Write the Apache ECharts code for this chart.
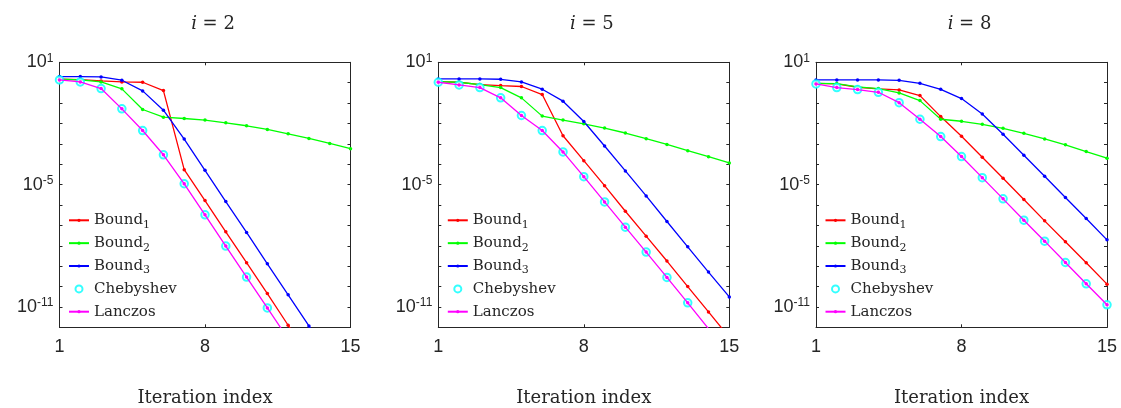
<!DOCTYPE html>
<html>
<head>
<meta charset="utf-8">
<script src="https://cdn.jsdelivr.net/npm/echarts@6/dist/echarts.min.js"></script>
<style>
html,body{margin:0;padding:0;background:#fff;}
#chart{width:1121px;height:408px;}
</style>
</head>
<body>
<div id="chart"></div>
<script>
// Iteration index (x values)
const iterations = [1,2,3,4,5,6,7,8,9,10,11,12,13,14,15];
const panelTitles = ['2','5','8'];
const xTickLabels = [1, 8, 15];
const yTickExponents = [1, -5, -11];

// Panel i = 2
const p1Bound1 = [1.47,1.42,1.22,1.09,1.05,0.41,5.4e-5,1.65e-6,4.8e-8,1.47e-9,4.5e-11,1.26e-12,4e-14];
const p1Bound2 = [1.47,1.37,1.09,0.497,0.0484,0.0204,0.0175,0.0146,0.0108,7.7e-3,5.1e-3,3.1e-3,1.85e-3,1.05e-3,5.8e-4];
const p1Bound3 = [1.99,1.99,1.92,1.32,0.396,0.0449,1.71e-3,5.0e-5,1.47e-6,4.5e-8,1.3e-9,3.9e-11,1.17e-12,3.5e-14];
const p1Chebyshev = [1.37,1.09,0.515,0.052,4.5e-3,2.9e-4,1.1e-5,3.3e-7,9.6e-9,2.9e-10,8.9e-12,2.7e-13];
const p1Lanczos = [1.37,1.09,0.515,0.052,4.5e-3,2.9e-4,1.1e-5,3.3e-7,9.6e-9,2.9e-10,8.9e-12,2.7e-13];

// Panel i = 5
const p2Bound1 = [1.13,1.05,0.81,0.72,0.65,0.262,2.5e-3,1.49e-4,8.9e-6,4.95e-7,2.96e-8,1.78e-9,9.9e-11,5.7e-12,3.2e-13];
const p2Bound2 = [1.13,1.05,0.81,0.577,0.18,0.0229,0.0146,9.6e-3,5.9e-3,3.4e-3,1.78e-3,9.4e-4,4.6e-4,2.34e-4,1.15e-4];
const p2Bound3 = [1.53,1.53,1.53,1.47,1.09,0.478,0.124,0.0125,7.8e-4,4.7e-5,2.8e-6,1.55e-7,8.9e-9,5.1e-10,3.1e-11];
const p2Chebyshev = [1.05,0.78,0.577,0.18,0.0246,4.5e-3,4.0e-4,2.46e-5,1.42e-6,8.2e-8,4.9e-9,2.8e-10,1.58e-11,8.5e-13,5e-14];
const p2Lanczos = [1.05,0.78,0.577,0.18,0.0246,4.5e-3,4.0e-4,2.46e-5,1.42e-6,8.2e-8,4.9e-9,2.8e-10,1.58e-11,8.5e-13,5e-14];

// Panel i = 8
const p3Bound1 = [0.935,0.867,0.596,0.493,0.44,0.232,0.0217,2.36e-3,2.2e-4,2.06e-5,1.85e-6,1.67e-7,1.56e-8,1.46e-9,1.31e-10];
const p3Bound2 = [0.935,0.9,0.618,0.512,0.314,0.132,0.0161,0.0128,9.1e-3,5.8e-3,3.3e-3,1.75e-3,8.9e-4,4.2e-4,1.97e-4];
const p3Bound3 = [1.36,1.36,1.36,1.36,1.31,0.935,0.474,0.166,0.0293,2.96e-3,2.76e-4,2.58e-5,2.32e-6,2.17e-7,1.95e-8];
const p3Chebyshev = [0.867,0.573,0.457,0.338,0.105,0.0161,2.27e-3,2.38e-4,2.2e-5,2.0e-6,1.8e-7,1.68e-8,1.51e-9,1.36e-10,1.27e-11];
const p3Lanczos = [0.867,0.573,0.457,0.338,0.105,0.0161,2.27e-3,2.38e-4,2.2e-5,2.0e-6,1.8e-7,1.68e-8,1.51e-9,1.36e-10,1.27e-11];

const seriesNames = ['Bound1','Bound2','Bound3','Chebyshev','Lanczos'];
const seriesColors = ['#ff0000','#00ff00','#0000ff','#00ffff','#ff00ff'];

const panels = [
  [p1Bound1,p1Bound2,p1Bound3,p1Chebyshev,p1Lanczos],
  [p2Bound1,p2Bound2,p2Bound3,p2Chebyshev,p2Lanczos],
  [p3Bound1,p3Bound2,p3Bound3,p3Chebyshev,p3Lanczos]
];

const gridLefts = [59.5, 438.3, 816];
const gridWidth = 291;
const gridTop = 62.3;
const gridHeight = 265;
const axisColor = '#262626';
const serif = 'DejaVu Serif';
const sans = 'Liberation Sans';

const chart = echarts.init(document.getElementById('chart'), null, {renderer:'canvas'});

const grids = [], xAxes = [], yAxes = [], series = [], titles = [], legends = [];

const legendText = {
  fontFamily:serif, fontSize:15, color:'#262626', lineHeight:20,
  rich:{
    t:{fontFamily:serif, fontSize:15, color:'#262626', lineHeight:20},
    sub:{fontFamily:serif, fontSize:11, color:'#262626', lineHeight:9, verticalAlign:'bottom'}
  }
};
const legendFormatter = function(name){
  if (name.indexOf('Bound') === 0) return '{t|Bound}{sub|' + name.slice(5) + '}';
  return '{t|' + name + '}';
};

panels.forEach((panel, p) => {
  grids.push({left: gridLefts[p], top: gridTop, width: gridWidth, height: gridHeight,
    containLabel:false, outerBoundsMode:'none'});
  const baseX = {
    gridIndex: p, type:'value', min: 1, max: 15, interval: 7,
    axisLine:{show:true, onZero:false, lineStyle:{color:axisColor, width:1}},
    axisTick:{show:true, inside:true, length:3, lineStyle:{color:axisColor}},
    splitLine:{show:false}
  };
  xAxes.push(Object.assign({}, baseX, {
    position:'bottom',
    axisLabel:{show:true, margin:11, color:'#262626', fontFamily:sans, fontSize:18},
    name:'Iteration index', nameLocation:'middle', nameGap:62,
    nameTextStyle:{fontFamily:serif, fontSize:18, color:'#262626'}
  }));
  xAxes.push(Object.assign({}, baseX, {position:'top', axisLabel:{show:false}}));
  const baseY = {
    gridIndex: p, type:'log', logBase:10, min:1e-12, max:10, interval:1,
    axisLine:{show:true, onZero:false, lineStyle:{color:axisColor, width:1}},
    axisTick:{show:true, inside:true, length:3, lineStyle:{color:axisColor}},
    splitLine:{show:false}, minorTick:{show:false}
  };
  yAxes.push(Object.assign({}, baseY, {
    position:'left',
    axisLabel:{
      show:true, margin:6, color:'#262626', fontFamily:sans, fontSize:18,
      formatter: function(v){
        const e = Math.round(Math.log10(v));
        if (yTickExponents.indexOf(e) >= 0) return '{b|10}{s|' + e + '}';
        return '';
      },
      rich:{
        b:{fontFamily:sans, fontSize:18, color:'#262626', lineHeight:20},
        s:{fontFamily:sans, fontSize:12, color:'#262626', lineHeight:8, verticalAlign:'top'}
      }
    }
  }));
  yAxes.push(Object.assign({}, baseY, {position:'right', axisLabel:{show:false}}));

  panel.forEach((vals, k) => {
    const data = vals.map((v, j) => [iterations[j], v]);
    if (seriesNames[k] === 'Chebyshev') {
      series.push({
        type:'scatter', name:seriesNames[k], xAxisIndex:2*p, yAxisIndex:2*p,
        data, symbol:'emptyCircle', symbolSize:7.5,
        itemStyle:{color:seriesColors[k], borderColor:seriesColors[k], borderWidth:1.6},
        clip:true, animation:false, z:3
      });
    } else {
      series.push({
        type:'line', name:seriesNames[k], xAxisIndex:2*p, yAxisIndex:2*p,
        data, symbol:'circle', symbolSize:3.5, showSymbol:true,
        lineStyle:{color:seriesColors[k], width:1.3},
        itemStyle:{color:seriesColors[k]},
        clip:true, animation:false, z: k === 4 ? 4 : 2
      });
    }
  });

  titles.push({
    text:'{i|i} = ' + panelTitles[p],
    left: gridLefts[p] + gridWidth/2 + 3, top: 10, textAlign:'center',
    textStyle:{fontFamily:serif, fontSize:18, fontWeight:'normal', color:'#262626',
      rich:{i:{fontFamily:serif, fontStyle:'italic', fontSize:18, color:'#262626'}}}
  });

  const lx = gridLefts[p] + 8.5;
  // Bound1..3
  legends.push({
    data: seriesNames.slice(0,3), orient:'vertical', left: lx, top: 210.3,
    itemWidth:20, itemHeight:4, itemGap:2.85, padding:0, selectedMode:false,
    formatter: legendFormatter, textStyle: legendText
  });
  // Chebyshev (group bounds start at the circle, so shift right to centre it on the line slot)
  legends.push({
    data: [seriesNames[3]], orient:'vertical', left: lx + 6.5, top: 278.9,
    itemWidth:20, itemHeight:7, itemGap:2.85, padding:0, selectedMode:false,
    formatter: legendFormatter, textStyle: legendText
  });
  // Lanczos
  legends.push({
    data: [seriesNames[4]], orient:'vertical', left: lx, top: 301.7,
    itemWidth:20, itemHeight:4, itemGap:2.85, padding:0, selectedMode:false,
    formatter: legendFormatter, textStyle: legendText
  });
});

chart.setOption({
  animation:false,
  backgroundColor:'#ffffff',
  title: titles,
  legend: legends,
  grid: grids,
  xAxis: xAxes,
  yAxis: yAxes,
  series: series
});
</script>
</body>
</html>
